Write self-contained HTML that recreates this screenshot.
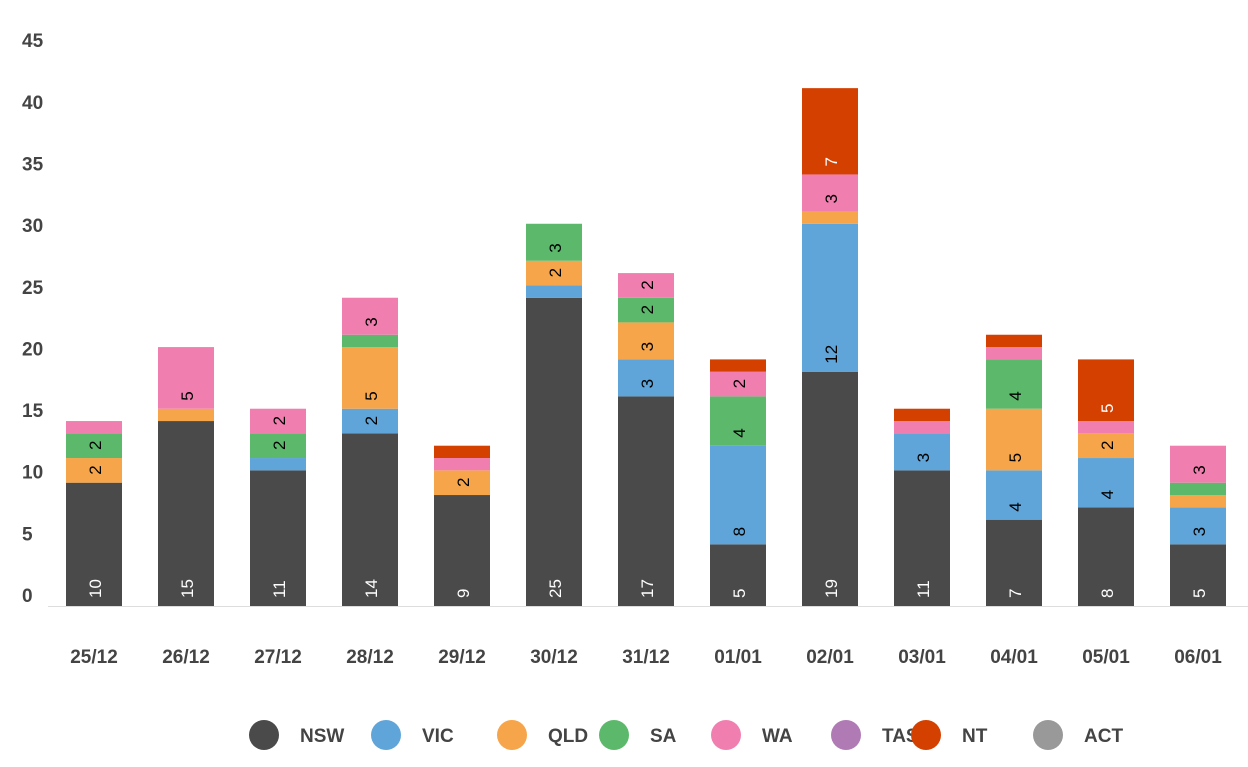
<!DOCTYPE html>
<html><head><meta charset="utf-8"><style>
body{margin:0;background:#fff;font-family:"Liberation Sans",sans-serif}
</style></head><body>
<svg id="c" width="1248" height="762" xmlns="http://www.w3.org/2000/svg"></svg>
<script>
const categories=["25/12","26/12","27/12","28/12","29/12","30/12","31/12","01/01","02/01","03/01","04/01","05/01","06/01"];
const seriesNames=["NSW","VIC","QLD","SA","WA","TAS","NT","ACT"];
const NSW=[10,15,11,14,9,25,17,5,19,11,7,8,5];
const VIC=[0,0,1,2,0,1,3,8,12,3,4,4,3];
const QLD=[2,1,0,5,2,2,3,0,1,0,5,2,1];
const SA=[2,0,2,1,0,3,2,4,0,0,4,0,1];
const WA=[1,5,2,3,1,0,2,2,3,1,1,1,3];
const TAS=[0,0,0,0,0,0,0,0,0,0,0,0,0];
const NT=[0,0,0,0,1,0,0,1,7,1,1,5,0];
const ACT=[0,0,0,0,0,0,0,0,0,0,0,0,0];
const yTicks=[0,5,10,15,20,25,30,35,40,45];
const series=[NSW,VIC,QLD,SA,WA,TAS,NT,ACT];
const colors=["#4a4a4a","#5fa5d9","#f7a54a","#5cb96b","#f07fb0","#b07ab5","#d44000","#999999"];
const labelColors=["#fff","#000","#000","#000","#000","#000","#fff","#000"];
const svg=document.getElementById('c');
const NS="http://www.w3.org/2000/svg";
const y0=606,pxPerUnit=12.33;
const y=v=>y0-v*pxPerUnit;
const x=i=>94+i*92;
const bw=56;
function mk(t,a){const e=document.createElementNS(NS,t);for(const k in a)e.setAttribute(k,a[k]);svg.appendChild(e);return e;}
yTicks.forEach(t=>{
 const e=mk('text',{x:22,y:y(t)-4,'font-size':19,'font-weight':'bold',fill:'#444'});
 e.textContent=t;
 
 
});
const ax=mk('line',{x1:48,x2:1248,y1:y0+0.5,y2:y0+0.5,stroke:'#ddd','stroke-width':1});


categories.forEach((c,i)=>{
 let acc=0;
 series.forEach((s,k)=>{
  const v=s[i];if(!v)return;
  const top=y(acc+v),bot=y(acc);
  const r=mk('rect',{x:x(i)-bw/2,y:top,width:bw,height:bot-top,fill:colors[k]});
  
  
  if(v>=2){
   const lx=x(i)+7,ly=bot-8;
   const t=mk('text',{x:lx,y:ly,'font-size':17,fill:labelColors[k],transform:`rotate(-90 ${lx} ${ly})`});
   t.textContent=v;
   
   
  }
  acc+=v;
 });
 const t=mk('text',{x:x(i),y:663,'font-size':19,'font-weight':'bold',fill:'#444','text-anchor':'middle'});
 t.textContent=c;
 
 
});
const legX=[264,386,512,614,726,846,926,1048];
seriesNames.forEach((n,k)=>{
 const g=document.createElementNS(NS,'g');svg.appendChild(g);
 
 
 const ci=document.createElementNS(NS,'circle');
 ci.setAttribute('cx',legX[k]);ci.setAttribute('cy',735);ci.setAttribute('r',15);ci.setAttribute('fill',colors[k]);
 g.appendChild(ci);
 const t=document.createElementNS(NS,'text');
 t.setAttribute('x',legX[k]+36);t.setAttribute('y',742);t.setAttribute('font-size',19);t.setAttribute('font-weight','bold');t.setAttribute('fill','#444');
 t.textContent=n;g.appendChild(t);
});
</script>
</body></html>
